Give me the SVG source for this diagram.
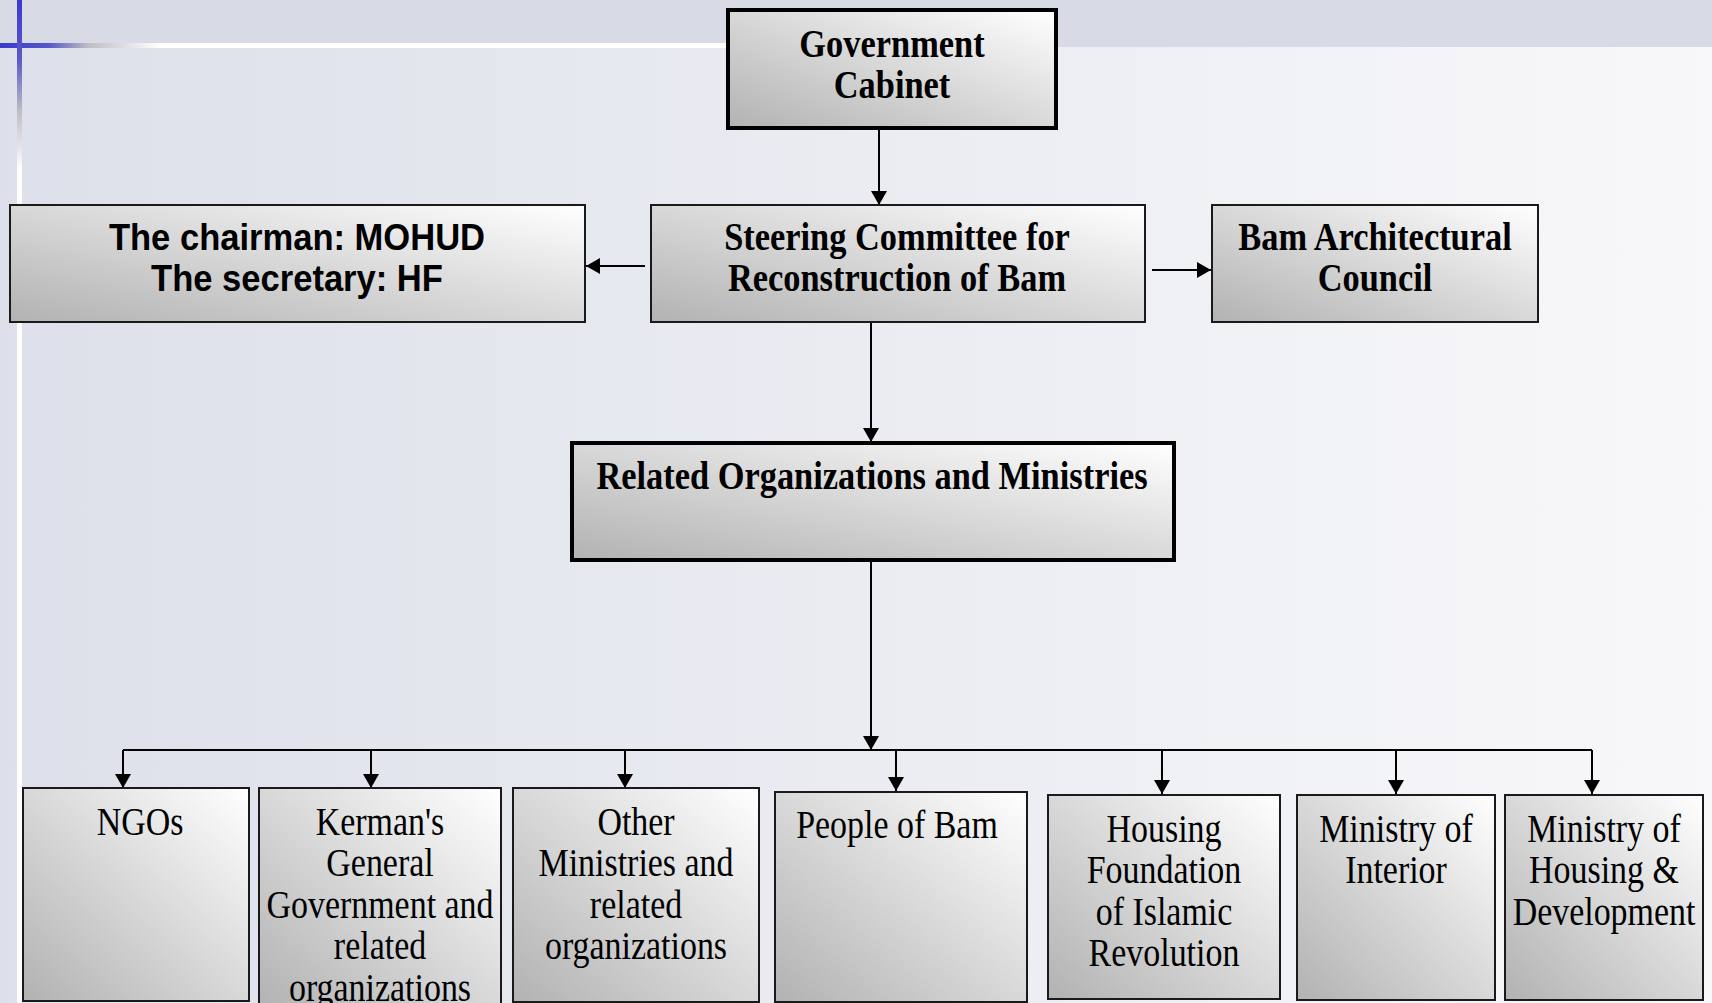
<svg xmlns="http://www.w3.org/2000/svg" width="1712" height="1003" viewBox="0 0 1712 1003">
<defs>
<linearGradient id="bg" x1="0" y1="0" x2="1" y2="0">
<stop offset="0" stop-color="#dde0ea"/>
<stop offset="1" stop-color="#f8f8fa"/>
</linearGradient>
<linearGradient id="box" x1="0" y1="1" x2="1" y2="0">
<stop offset="0" stop-color="#b2b2b2"/>
<stop offset="0.55" stop-color="#dcdcdc"/>
<stop offset="1" stop-color="#ffffff"/>
</linearGradient>
<linearGradient id="hline" x1="0" y1="0" x2="160" y2="0" gradientUnits="userSpaceOnUse">
<stop offset="0" stop-color="#3a3ad0"/>
<stop offset="0.3" stop-color="#5656c8"/>
<stop offset="0.55" stop-color="#bdbdc4"/>
<stop offset="1" stop-color="#ffffff"/>
</linearGradient>
<linearGradient id="vline" x1="0" y1="0" x2="0" y2="200" gradientUnits="userSpaceOnUse">
<stop offset="0" stop-color="#3a3ad0"/>
<stop offset="0.3" stop-color="#5a5ac8"/>
<stop offset="0.55" stop-color="#bcbcc4"/>
<stop offset="0.85" stop-color="#ffffff"/>
<stop offset="1" stop-color="#ffffff"/>
</linearGradient>
<marker id="arr" markerUnits="userSpaceOnUse" markerWidth="14" markerHeight="16" refX="14" refY="8" orient="auto">
<path d="M0,0 L14,8 L0,16 z" fill="#000"/>
</marker>
<style>
.bx{fill:url(#box);stroke:#1a1a1a;stroke-width:2}
.bxt{fill:url(#box);stroke:#000;stroke-width:4}
.tb{font-family:"Liberation Serif",serif;font-weight:bold;font-size:40px;text-anchor:middle;fill:#000}
.tr{font-family:"Liberation Serif",serif;font-size:39px;text-anchor:middle;fill:#000}
.ts{font-family:"Liberation Sans",Arial,sans-serif;font-weight:bold;font-size:36px;text-anchor:middle;fill:#000}
.cn{fill:none;stroke:#000;stroke-width:2}
</style>
</defs>
<g id="background">
<rect x="0" y="0" width="1712" height="1003" fill="url(#bg)"/>
<rect x="0" y="0" width="1712" height="47" fill="#d8dbe5"/>
<rect x="0" y="43" width="728" height="5" fill="url(#hline)"/>
<rect x="17" y="0" width="5" height="1003" fill="url(#vline)"/>
</g>
<g id="connectors">
<line class="cn" x1="879" y1="128" x2="879" y2="205" marker-end="url(#arr)"/>
<line class="cn" x1="645" y1="266" x2="586" y2="266" marker-end="url(#arr)"/>
<line class="cn" x1="1152" y1="270" x2="1211" y2="270" marker-end="url(#arr)"/>
<line class="cn" x1="871" y1="319" x2="871" y2="442" marker-end="url(#arr)"/>
<line class="cn" x1="871" y1="561" x2="871" y2="750" marker-end="url(#arr)"/>
<line class="cn" x1="123" y1="750" x2="1592" y2="750"/>
<line class="cn" x1="123" y1="750" x2="123" y2="788" marker-end="url(#arr)"/>
<line class="cn" x1="371" y1="750" x2="371" y2="788" marker-end="url(#arr)"/>
<line class="cn" x1="625" y1="750" x2="625" y2="788" marker-end="url(#arr)"/>
<line class="cn" x1="896" y1="750" x2="896" y2="791" marker-end="url(#arr)"/>
<line class="cn" x1="1162" y1="750" x2="1162" y2="794" marker-end="url(#arr)"/>
<line class="cn" x1="1396" y1="750" x2="1396" y2="794" marker-end="url(#arr)"/>
<line class="cn" x1="1592" y1="750" x2="1592" y2="794" marker-end="url(#arr)"/>
</g>
<g id="government-cabinet">
<rect class="bxt" x="728" y="10" width="328" height="118"/>
<text class="tb" transform="translate(892,57) scale(0.86 1)"><tspan x="0" y="0">Government</tspan><tspan x="0" y="41.5">Cabinet</tspan></text>
</g>
<g id="chairman">
<rect class="bx" x="10" y="205" width="575" height="117"/>
<text class="ts" transform="translate(297,250) scale(0.96 1)"><tspan x="0" y="0">The chairman: MOHUD</tspan><tspan x="0" y="41">The secretary: HF</tspan></text>
</g>
<g id="steering-committee">
<rect class="bx" x="651" y="205" width="494" height="117"/>
<text class="tb" transform="translate(897,250) scale(0.86 1)"><tspan x="0" y="0">Steering Committee for</tspan><tspan x="0" y="41">Reconstruction of Bam</tspan></text>
</g>
<g id="bam-architectural-council">
<rect class="bx" x="1212" y="205" width="326" height="117"/>
<text class="tb" transform="translate(1375,250) scale(0.86 1)"><tspan x="0" y="0">Bam Architectural</tspan><tspan x="0" y="41">Council</tspan></text>
</g>
<g id="related-organizations">
<rect class="bxt" x="572" y="443" width="602" height="117"/>
<text class="tb" transform="translate(872,489) scale(0.86 1)"><tspan x="0" y="0">Related Organizations and Ministries</tspan></text>
</g>
<g id="ngos">
<rect class="bx" x="23" y="788" width="226" height="213"/>
<text class="tr" transform="translate(140,835) scale(0.87 1)"><tspan x="0" y="0">NGOs</tspan></text>
</g>
<g id="kerman">
<rect class="bx" x="259" y="788" width="242" height="220"/>
<text class="tr" transform="translate(380,835) scale(0.87 1)"><tspan x="0" y="0">Kerman's</tspan><tspan x="0" y="41.5">General</tspan><tspan x="0" y="83">Government and</tspan><tspan x="0" y="124.5">related</tspan><tspan x="0" y="166">organizations</tspan></text>
</g>
<g id="other-ministries">
<rect class="bx" x="513" y="788" width="246" height="214"/>
<text class="tr" transform="translate(636,835) scale(0.87 1)"><tspan x="0" y="0">Other</tspan><tspan x="0" y="41.5">Ministries and</tspan><tspan x="0" y="83">related</tspan><tspan x="0" y="124.5">organizations</tspan></text>
</g>
<g id="people-of-bam">
<rect class="bx" x="775" y="792" width="252" height="210"/>
<text class="tr" transform="translate(897,838) scale(0.87 1)"><tspan x="0" y="0">People of Bam</tspan></text>
</g>
<g id="housing-foundation">
<rect class="bx" x="1048" y="795" width="232" height="204"/>
<text class="tr" transform="translate(1164,842) scale(0.87 1)"><tspan x="0" y="0">Housing</tspan><tspan x="0" y="41.5">Foundation</tspan><tspan x="0" y="83">of Islamic</tspan><tspan x="0" y="124.5">Revolution</tspan></text>
</g>
<g id="ministry-interior">
<rect class="bx" x="1297" y="795" width="198" height="205"/>
<text class="tr" transform="translate(1396,842) scale(0.87 1)"><tspan x="0" y="0">Ministry of</tspan><tspan x="0" y="41.5">Interior</tspan></text>
</g>
<g id="ministry-housing">
<rect class="bx" x="1505" y="795" width="198" height="205"/>
<text class="tr" transform="translate(1604,842) scale(0.87 1)"><tspan x="0" y="0">Ministry of</tspan><tspan x="0" y="41.5">Housing &amp;</tspan><tspan x="0" y="83">Development</tspan></text>
</g>
</svg>
